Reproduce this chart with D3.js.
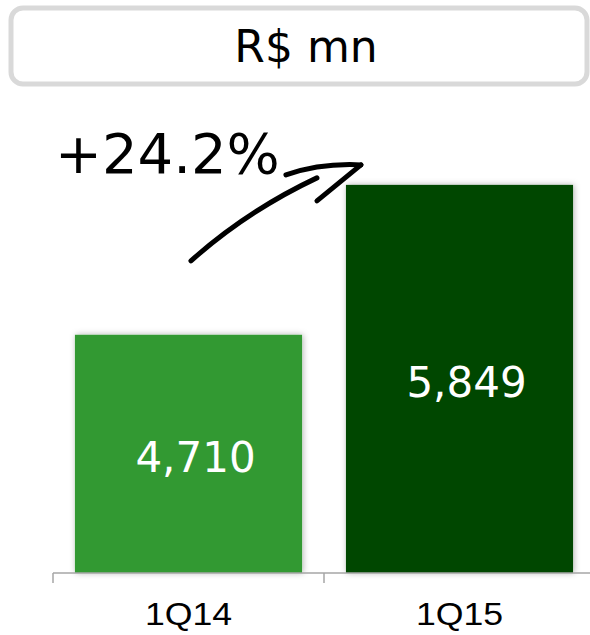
<!DOCTYPE html>
<html>
<head>
<meta charset="utf-8">
<script src="https://cdn.jsdelivr.net/npm/d3@7"></script>
<style>
  html, body { margin: 0; padding: 0; background: #fff; }
  svg { display: block; }
</style>
</head>
<body>
<div class="visualisation"></div>
<script>
// data
const quarters = ["1Q14", "1Q15"];
const revenue = [4710, 5849];
const barColors = ["#339933", "#004700"];
const unitLabel = "R$ mn";

const wdth = 590;
const hght = 635;
const baseY = 573;

const svg = d3.select(".visualisation")
  .append("svg")
  .attr("width", wdth)
  .attr("height", hght);

// soft shadow on the bars
const defs = svg.append("defs");
defs.append("filter")
  .attr("id", "shadow")
  .attr("x", "-10%").attr("y", "-10%")
  .attr("width", "120%").attr("height", "120%")
  .append("feDropShadow")
  .attr("dx", 1).attr("dy", 0)
  .attr("stdDeviation", 3)
  .attr("flood-color", "#000")
  .attr("flood-opacity", 0.3);

// title box
svg.append("rect")
  .attr("x", 11).attr("y", 8)
  .attr("width", 576).attr("height", 76)
  .attr("rx", 12).attr("ry", 12)
  .attr("fill", "#fff")
  .attr("stroke", "#d9d9d9")
  .attr("stroke-width", 5);

svg.append("text")
  .attr("x", 306).attr("y", 62)
  .attr("text-anchor", "middle")
  .style("font-family", "'DejaVu Sans', sans-serif")
  .style("font-size", "44px")
  .attr("fill", "#000")
  .text(unitLabel);

const x = d3.scaleBand()
  .domain(quarters)
  .range([53, 595])
  .paddingInner(0.162)
  .paddingOuter(0.081);

// axis does not start at zero in the original
const y = d3.scaleLinear()
  .domain([2900, 6000])
  .range([baseY, 165]);

const data = quarters.map((q, i) => ({q: q, v: revenue[i], c: barColors[i]}));

svg.selectAll("rect.bar")
  .data(data)
  .enter()
  .append("rect")
  .attr("class", "bar")
  .attr("x", d => x(d.q))
  .attr("y", d => y(d.v))
  .attr("width", x.bandwidth())
  .attr("height", d => baseY - y(d.v))
  .attr("fill", d => d.c)
  .attr("filter", "url(#shadow)");

svg.selectAll("text.val")
  .data(data)
  .enter()
  .append("text")
  .attr("class", "val")
  .attr("x", d => x(d.q) + x.bandwidth() / 2 + 7)
  .attr("y", d => (y(d.v) + baseY) / 2 + 18)
  .attr("text-anchor", "middle")
  .style("font-family", "'DejaVu Sans', Verdana, sans-serif")
  .style("font-size", "42px")
  .attr("fill", "#fff")
  .text(d => d3.format(",")(d.v));

// x axis with ticks between categories
const axisG = svg.append("g")
  .attr("transform", "translate(0," + baseY + ")");
axisG.append("line")
  .attr("x1", 53).attr("x2", wdth)
  .attr("stroke", "#a6a6a6").attr("stroke-width", 1.5);
axisG.selectAll("line.tick")
  .data(quarters)
  .enter()
  .append("line")
  .attr("class", "tick")
  .attr("x1", d => x(d) - x.step() * x.paddingOuter())
  .attr("x2", d => x(d) - x.step() * x.paddingOuter())
  .attr("y1", 0).attr("y2", 10)
  .attr("stroke", "#a6a6a6").attr("stroke-width", 1.5);
// labels are a bit wider than plain Arial, so stretch them
axisG.selectAll("text.cat")
  .data(quarters)
  .enter()
  .append("text")
  .attr("class", "cat")
  .attr("transform", d => "translate(" + (x(d) + x.bandwidth() / 2) + ",52) scale(1.15,1)")
  .attr("text-anchor", "middle")
  .style("font-family", "'Liberation Sans', Arial, sans-serif")
  .style("font-size", "31px")
  .attr("fill", "#000")
  .text(d => d);

// growth annotation with hand drawn arrow
const growth = revenue[1] / revenue[0] - 1;
svg.append("text")
  .attr("x", 55).attr("y", 173)
  .style("font-family", "'DejaVu Sans', Verdana, sans-serif")
  .style("font-size", "56px")
  .attr("fill", "#000")
  .text(d3.format("+.1%")(growth));

const tipX = x(quarters[1]) + 15;
const tipY = y(revenue[1]) - 20;
const arrow = svg.append("g")
  .attr("fill", "none")
  .attr("stroke", "#000")
  .attr("stroke-width", 5)
  .attr("stroke-linecap", "round");
arrow.append("path")
  .attr("d", `M${tipX - 170},${tipY + 96} Q${tipX - 114},${tipY + 46} ${tipX - 44},${tipY + 13}`);
arrow.append("path")
  .attr("d", `M${tipX - 75},${tipY + 10} Q${tipX - 40},${tipY - 2} ${tipX},${tipY}`);
arrow.append("path")
  .attr("d", `M${tipX},${tipY} L${tipX - 44},${tipY + 36}`);
</script>
</body>
</html>
